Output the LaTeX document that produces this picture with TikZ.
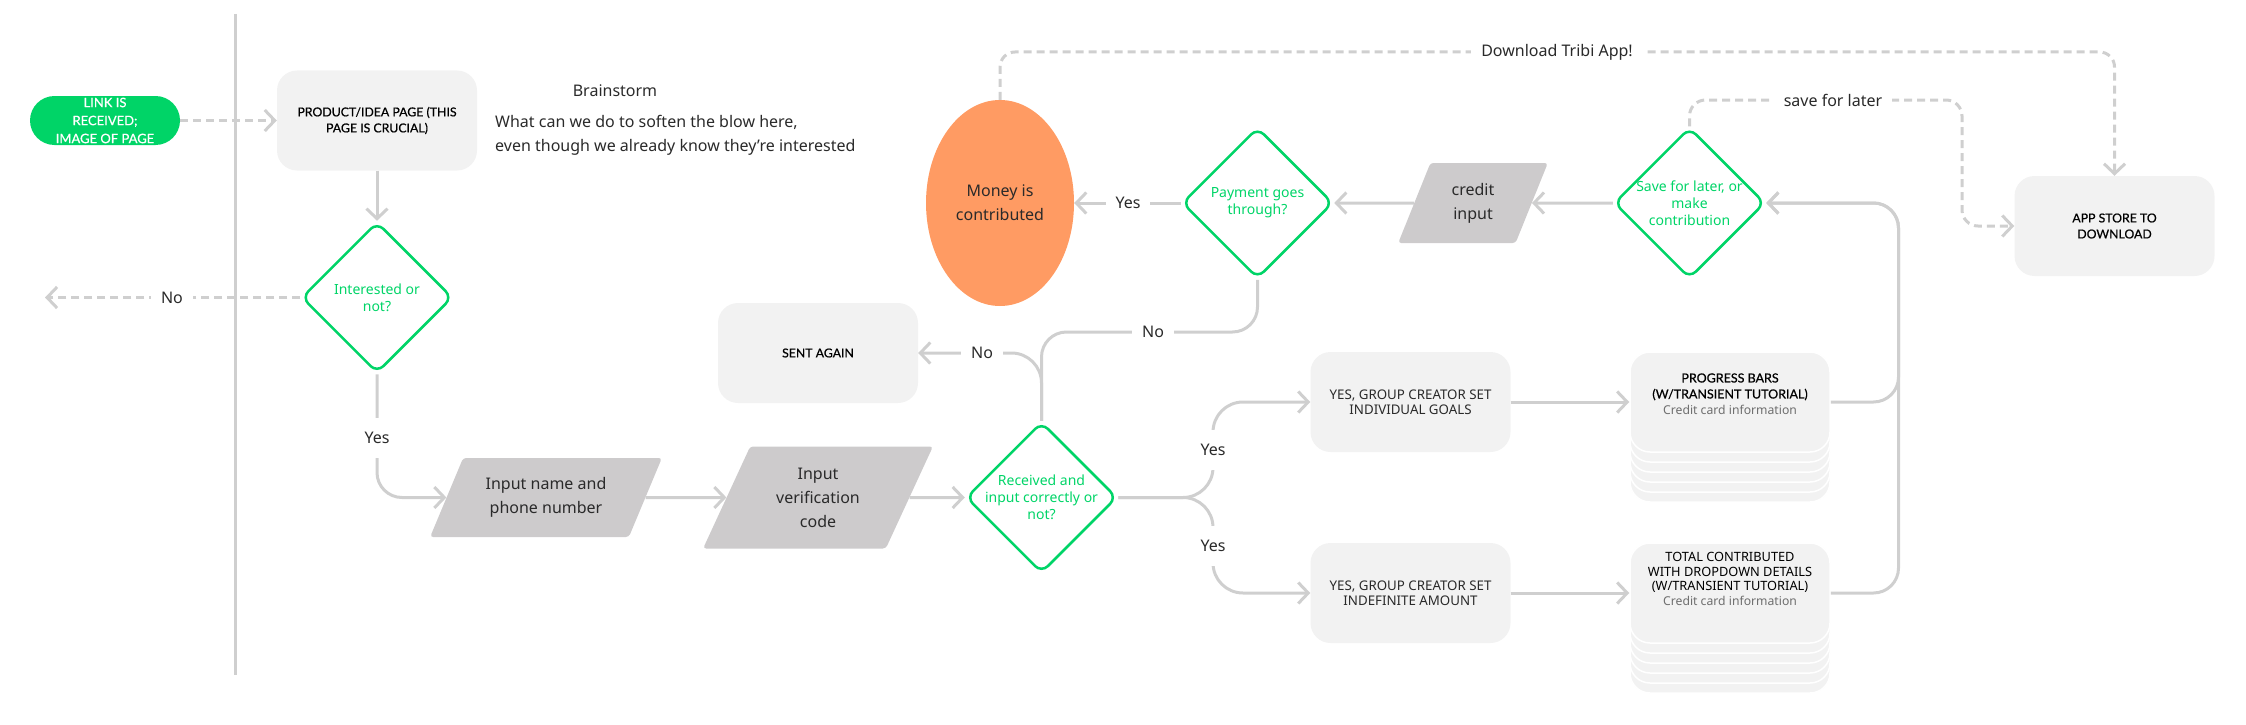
\documentclass[tikz,border=0pt]{standalone}
\usepackage{fontspec}
\setmainfont{Noto Sans}
\newfontfamily\capsfont{Lato}[FakeBold=0.6]
\usetikzlibrary{arrows.meta,shapes.geometric}
\definecolor{flowgreen}{HTML}{00D467}
\definecolor{linegray}{HTML}{CFCFCF}
\definecolor{boxgray}{HTML}{F2F2F2}
\definecolor{paragray}{HTML}{CDCBCC}
\definecolor{moneyorange}{HTML}{FF9B63}
\definecolor{labeltext}{HTML}{2A2A2A}
\definecolor{subtext}{HTML}{6E6E6E}
\newcommand{\fsz}[2]{\fontsize{#1}{#2}\selectfont}
\tikzset{
  conn/.style={draw=linegray, line width=3pt},
  arr/.style={-{Straight Barb[length=10pt,width=21pt]}},
  dsh/.style={dash pattern=on 8pt off 5pt},
  lbl/.style={fill=white, text=labeltext, font=\fsz{16}{20}, inner xsep=10pt, inner ysep=4pt},
  vlbl/.style={fill=white, text=labeltext, font=\fsz{16}{20}, inner xsep=4pt, inner ysep=14pt},
  note/.style={text=labeltext, inner sep=0pt},
  card/.style={rectangle, rounded corners=20pt, fill=boxgray, minimum width=200pt, minimum height=100pt, inner sep=0pt, font=\capsfont\fsz{12.3}{16}, text=black, align=center},
  cardback/.style={rectangle, rounded corners=20pt, fill=boxgray, draw=white, line width=1.5pt, minimum width=200pt, minimum height=100pt, inner sep=0pt},
  cardtext/.style={font=\capsfont\fsz{12.5}{16}, text=black, align=center},
  cardtextb/.style={font=\fsz{12.8}{14.7}, text=black, align=center},
  pill/.style={rectangle, rounded corners=24.5pt, fill=flowgreen, minimum width=150pt, minimum height=49pt, inner sep=0pt},
  pilltext/.style={text=white, font=\capsfont\fsz{13}{18}, align=center},
  decision/.style={diamond, aspect=1, draw=flowgreen, line width=2.5pt, rounded corners=9pt, minimum width=151pt, minimum height=151pt, inner sep=0pt},
  dectext/.style={text=flowgreen, font=\fsz{14}{16.8}, align=center},
  dataio/.style 2 args={trapezium, trapezium left angle=#1, trapezium right angle=#2, trapezium stretches=true, fill=paragray, rounded corners=3pt, inner sep=0pt, text=labeltext, font=\fsz{16}{24}, align=center},
}
\begin{document}
\begin{tikzpicture}[x=1pt,y=-1pt]
\useasboundingbox (0,0) rectangle (2246,725);
% separator
\draw[linegray,line width=3pt] (235,14) -- (235,675);

% nodes
\node[pill, label={[pilltext]center:{LINK IS\\RECEIVED;\\IMAGE OF PAGE}}] (link) at (105,120.5) {};
\node[card] (product) at (377,120.5) {PRODUCT/IDEA PAGE (THIS\\PAGE IS CRUCIAL)};
\node[note, font=\fsz{16}{20}] (brain) at (615,91) {Brainstorm};
\node[note, font=\fsz{16}{24}, anchor=west, align=left] (brainq) at (495,135) {What can we do to soften the blow here,\\even though we already know they’re interested};

\node[decision, label={[dectext]center:{Interested or\\not?}}] (interest) at (377,297.5) {};
\node[dataio={59}{121}, minimum width=232pt, minimum height=79pt] (inname) at (546,497.5) {Input name and\\phone number};
\node[dataio={64}{116}, minimum width=230pt, minimum height=102pt] (inver) at (818,497.5) {Input\\verification\\code};
\node[decision, label={[dectext]center:{Received and\\input correctly or\\not?}}] (received) at (1041.5,497.5) {};
\node[card] (sent) at (818,353) {SENT AGAIN};

\node[ellipse, fill=moneyorange, minimum width=148pt, minimum height=206pt, inner sep=0pt, font=\fsz{16}{24}, text=labeltext, align=center] (money) at (1000,203) {Money is\\contributed};
\node[decision, label={[dectext]center:{Payment goes\\through?}}] (payment) at (1257.5,203) {};
\node[dataio={68}{112}, minimum width=150pt, minimum height=80pt] (credit) at (1473,203) {credit\\input};
\node[decision, label={[dectext]center:{Save for later, or\\make\\contribution}}] (save) at (1689.5,203) {};
\node[card] (appstore) at (2114.5,226) {APP STORE TO\\DOWNLOAD};

\node[card, font=\fsz{13.3}{15.5}, text=labeltext] (goals) at (1410.5,402) {YES, GROUP CREATOR SET\\INDIVIDUAL GOALS};
\node[card, font=\fsz{13.3}{15.5}, text=labeltext] (indef) at (1410.5,593) {YES, GROUP CREATOR SET\\INDEFINITE AMOUNT};

\foreach \k in {5,4,3,2,1} \node[cardback] (pstack\k) at (1730,{402+10*\k}) {};
\node[cardback, label={[cardtext, yshift=8pt]center:{PROGRESS BARS\\(W/TRANSIENT TUTORIAL)\\{\normalfont\fsz{12.2}{16}\color{subtext}Credit card information}}}] (progress) at (1730,402) {};
\foreach \k in {5,4,3,2,1} \node[cardback] (tstack\k) at (1730,{593+10*\k}) {};
\node[cardback, label={[cardtextb, yshift=14pt]center:{TOTAL CONTRIBUTED\\WITH DROPDOWN DETAILS\\(W/TRANSIENT TUTORIAL)\\{\fsz{12.2}{14.7}\color{subtext}Credit card information}}}] (total) at (1730,593) {};

% connectors
\coordinate (noend) at (45,297.5);
\draw[conn,dsh,arr] (link) -- (product);
\draw[conn,arr] (product) -- (interest);
\draw[conn,dsh,arr] (interest.west) -- (noend);
\draw[conn,arr,rounded corners=25pt] (interest.south) -- (377,497.5) -- (inname.west);
\draw[conn,arr] (inname.east) -- (inver.west);
\draw[conn,arr] (inver.east) -- (received.west);
\draw[conn,arr,rounded corners=30pt] (received.north) -- (1041.5,353) -- (sent.east);
\draw[conn,rounded corners=25pt] (payment.south) -- (1257.5,332) -- (1041.5,332) -- (received.north);
\draw[conn,arr] (payment.west) -- (money.east);
\draw[conn,arr] (credit.west) -- (payment.east);
\draw[conn,arr] (save.west) -- (credit.east);
\draw[conn,dsh,arr,rounded corners=15pt] (money.north) -- (1000,52) -- (2114.5,52) -- (appstore.north);
\draw[conn,dsh,arr,rounded corners=16pt] (save.north) -- (1689.5,100) -- (1962,100) -- (1962,226) -- (appstore.west);
\draw[conn,arr,rounded corners=30pt] (received.east) -- (1213,497.5) -- (1213,402) -- (goals.west);
\draw[conn,arr,rounded corners=30pt] (received.east) -- (1213,497.5) -- (1213,593) -- (indef.west);
\draw[conn,arr] (goals.east) -- (progress.west);
\draw[conn,arr] (indef.east) -- (total.west);
\draw[conn,arr,rounded corners=25pt] (total.east) -- (1898.5,593) -- (1898.5,203) -- (save.east);
\draw[conn,arr,rounded corners=25pt] (progress.east) -- (1898.5,402) -- (1898.5,203) -- (save.east);

% connector labels
\node[lbl] (lbno1) at (172,297.5) {No};
\node[vlbl] (lbyes1) at (377,438) {Yes};
\node[lbl] (lbno2) at (982,353) {No};
\node[lbl] (lbno3) at (1153,332) {No};
\node[lbl] (lbyes2) at (1128,203) {Yes};
\node[vlbl] (lbyes3) at (1213,450) {Yes};
\node[vlbl] (lbyes4) at (1213,546) {Yes};
\node[lbl] (lbdl) at (1557,52) {Download Tribi App!};
\node[lbl] (lbsave) at (1833,100) {save for later};
\end{tikzpicture}
\end{document}
